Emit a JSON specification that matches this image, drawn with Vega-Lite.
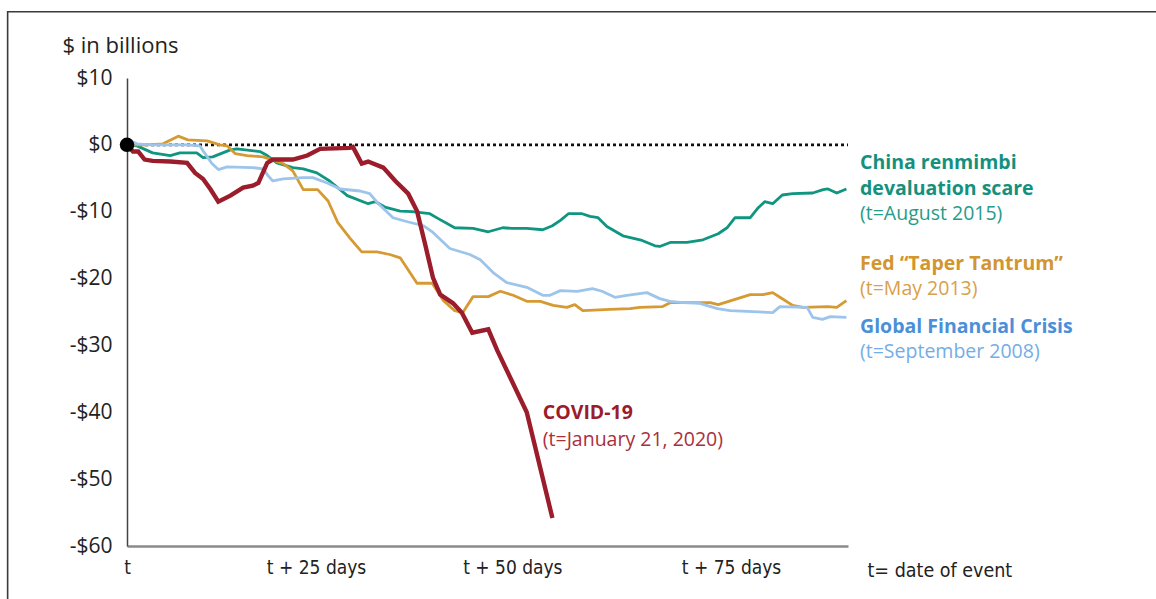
{
  "$schema": "https://vega.github.io/schema/vega-lite/v6.json",
  "width": 721,
  "height": 468,
  "autosize": {"type": "none"},
  "padding": {"left": 127, "top": 78, "right": 308, "bottom": 53},
  "background": "white",
  "config": {"view": {"stroke": null}, "font": "Open Sans"},
  "datasets": {
    "series": [
      {"series": "COVID-19", "day": 0, "value": 0},
      {"series": "COVID-19", "day": 0.75, "value": -1.0},
      {"series": "COVID-19", "day": 1.4, "value": -1.0},
      {"series": "COVID-19", "day": 2.2, "value": -2.2},
      {"series": "COVID-19", "day": 3.2, "value": -2.4},
      {"series": "COVID-19", "day": 5.4, "value": -2.5},
      {"series": "COVID-19", "day": 7.5, "value": -2.7},
      {"series": "COVID-19", "day": 8.5, "value": -4.2},
      {"series": "COVID-19", "day": 9.5, "value": -5.1},
      {"series": "COVID-19", "day": 10.4, "value": -6.6},
      {"series": "COVID-19", "day": 11.4, "value": -8.5},
      {"series": "COVID-19", "day": 12.9, "value": -7.6},
      {"series": "COVID-19", "day": 14.5, "value": -6.4},
      {"series": "COVID-19", "day": 15.7, "value": -6.1},
      {"series": "COVID-19", "day": 16.4, "value": -5.7},
      {"series": "COVID-19", "day": 17.5, "value": -2.7},
      {"series": "COVID-19", "day": 18.2, "value": -2.2},
      {"series": "COVID-19", "day": 20.7, "value": -2.2},
      {"series": "COVID-19", "day": 22.5, "value": -1.6},
      {"series": "COVID-19", "day": 24.1, "value": -0.6},
      {"series": "COVID-19", "day": 27.8, "value": -0.45},
      {"series": "COVID-19", "day": 28.2, "value": -0.3},
      {"series": "COVID-19", "day": 29.3, "value": -2.8},
      {"series": "COVID-19", "day": 30.1, "value": -2.5},
      {"series": "COVID-19", "day": 32.0, "value": -3.4},
      {"series": "COVID-19", "day": 33.5, "value": -5.4},
      {"series": "COVID-19", "day": 35.1, "value": -7.3},
      {"series": "COVID-19", "day": 36.2, "value": -9.9},
      {"series": "COVID-19", "day": 37.2, "value": -14.8},
      {"series": "COVID-19", "day": 38.2, "value": -19.9},
      {"series": "COVID-19", "day": 39.1, "value": -22.4},
      {"series": "COVID-19", "day": 40.7, "value": -23.7},
      {"series": "COVID-19", "day": 41.8, "value": -25.1},
      {"series": "COVID-19", "day": 43.1, "value": -28.1},
      {"series": "COVID-19", "day": 45.1, "value": -27.6},
      {"series": "COVID-19", "day": 46.2, "value": -30.7},
      {"series": "COVID-19", "day": 49.9, "value": -40.0},
      {"series": "COVID-19", "day": 53.1, "value": -55.8},

      {"series": "China", "day": 0, "value": 0},
      {"series": "China", "day": 1.25, "value": -0.15},
      {"series": "China", "day": 3.2, "value": -1.2},
      {"series": "China", "day": 5.4, "value": -1.6},
      {"series": "China", "day": 6.6, "value": -1.2},
      {"series": "China", "day": 8.7, "value": -1.2},
      {"series": "China", "day": 9.5, "value": -1.9},
      {"series": "China", "day": 10.7, "value": -1.8},
      {"series": "China", "day": 12.9, "value": -0.75},
      {"series": "China", "day": 13.7, "value": -0.6},
      {"series": "China", "day": 16.6, "value": -1.0},
      {"series": "China", "day": 17.5, "value": -1.6},
      {"series": "China", "day": 18.7, "value": -2.7},
      {"series": "China", "day": 20.7, "value": -3.4},
      {"series": "China", "day": 22.0, "value": -3.6},
      {"series": "China", "day": 23.7, "value": -4.2},
      {"series": "China", "day": 25.3, "value": -5.4},
      {"series": "China", "day": 27.5, "value": -7.6},
      {"series": "China", "day": 30.1, "value": -8.8},
      {"series": "China", "day": 31.0, "value": -8.5},
      {"series": "China", "day": 32.2, "value": -9.3},
      {"series": "China", "day": 34.1, "value": -9.9},
      {"series": "China", "day": 35.6, "value": -10.0},
      {"series": "China", "day": 37.8, "value": -10.3},
      {"series": "China", "day": 38.8, "value": -11.0},
      {"series": "China", "day": 40.9, "value": -12.4},
      {"series": "China", "day": 43.2, "value": -12.5},
      {"series": "China", "day": 45.1, "value": -13.0},
      {"series": "China", "day": 46.9, "value": -12.4},
      {"series": "China", "day": 48.1, "value": -12.5},
      {"series": "China", "day": 49.9, "value": -12.5},
      {"series": "China", "day": 51.9, "value": -12.7},
      {"series": "China", "day": 53.1, "value": -12.1},
      {"series": "China", "day": 54.1, "value": -11.3},
      {"series": "China", "day": 55.1, "value": -10.3},
      {"series": "China", "day": 56.8, "value": -10.3},
      {"series": "China", "day": 57.8, "value": -10.7},
      {"series": "China", "day": 58.8, "value": -10.9},
      {"series": "China", "day": 59.9, "value": -12.2},
      {"series": "China", "day": 61.9, "value": -13.6},
      {"series": "China", "day": 64.3, "value": -14.3},
      {"series": "China", "day": 65.9, "value": -15.1},
      {"series": "China", "day": 66.5, "value": -15.2},
      {"series": "China", "day": 67.8, "value": -14.6},
      {"series": "China", "day": 69.9, "value": -14.6},
      {"series": "China", "day": 71.9, "value": -14.2},
      {"series": "China", "day": 73.8, "value": -13.3},
      {"series": "China", "day": 74.9, "value": -12.4},
      {"series": "China", "day": 75.9, "value": -10.9},
      {"series": "China", "day": 77.8, "value": -10.9},
      {"series": "China", "day": 78.8, "value": -9.4},
      {"series": "China", "day": 79.6, "value": -8.5},
      {"series": "China", "day": 80.6, "value": -8.8},
      {"series": "China", "day": 81.8, "value": -7.5},
      {"series": "China", "day": 83.1, "value": -7.3},
      {"series": "China", "day": 85.6, "value": -7.2},
      {"series": "China", "day": 86.9, "value": -6.7},
      {"series": "China", "day": 87.5, "value": -6.6},
      {"series": "China", "day": 88.6, "value": -7.2},
      {"series": "China", "day": 89.8, "value": -6.6},

      {"series": "Taper", "day": 0, "value": 0},
      {"series": "Taper", "day": 2.5, "value": 0},
      {"series": "Taper", "day": 4.5, "value": 0.15},
      {"series": "Taper", "day": 6.4, "value": 1.3},
      {"series": "Taper", "day": 7.6, "value": 0.75},
      {"series": "Taper", "day": 10.0, "value": 0.6},
      {"series": "Taper", "day": 11.6, "value": 0},
      {"series": "Taper", "day": 12.5, "value": -0.15},
      {"series": "Taper", "day": 13.5, "value": -1.3},
      {"series": "Taper", "day": 15.0, "value": -1.6},
      {"series": "Taper", "day": 17.0, "value": -1.8},
      {"series": "Taper", "day": 19.5, "value": -2.8},
      {"series": "Taper", "day": 20.7, "value": -3.9},
      {"series": "Taper", "day": 22.0, "value": -6.7},
      {"series": "Taper", "day": 23.8, "value": -6.7},
      {"series": "Taper", "day": 25.1, "value": -8.4},
      {"series": "Taper", "day": 26.3, "value": -11.6},
      {"series": "Taper", "day": 27.8, "value": -13.9},
      {"series": "Taper", "day": 29.3, "value": -16.0},
      {"series": "Taper", "day": 31.2, "value": -16.0},
      {"series": "Taper", "day": 32.8, "value": -16.4},
      {"series": "Taper", "day": 34.1, "value": -16.9},
      {"series": "Taper", "day": 36.2, "value": -20.7},
      {"series": "Taper", "day": 38.1, "value": -20.7},
      {"series": "Taper", "day": 39.5, "value": -23.3},
      {"series": "Taper", "day": 40.9, "value": -24.8},
      {"series": "Taper", "day": 41.9, "value": -25.1},
      {"series": "Taper", "day": 43.2, "value": -22.7},
      {"series": "Taper", "day": 45.1, "value": -22.7},
      {"series": "Taper", "day": 46.6, "value": -21.9},
      {"series": "Taper", "day": 48.2, "value": -22.5},
      {"series": "Taper", "day": 49.9, "value": -23.4},
      {"series": "Taper", "day": 51.6, "value": -23.4},
      {"series": "Taper", "day": 53.2, "value": -24.0},
      {"series": "Taper", "day": 54.9, "value": -24.3},
      {"series": "Taper", "day": 55.9, "value": -23.9},
      {"series": "Taper", "day": 56.9, "value": -24.8},
      {"series": "Taper", "day": 60.3, "value": -24.6},
      {"series": "Taper", "day": 62.8, "value": -24.5},
      {"series": "Taper", "day": 64.0, "value": -24.3},
      {"series": "Taper", "day": 66.8, "value": -24.2},
      {"series": "Taper", "day": 67.8, "value": -23.6},
      {"series": "Taper", "day": 70.7, "value": -23.6},
      {"series": "Taper", "day": 72.8, "value": -23.6},
      {"series": "Taper", "day": 73.8, "value": -23.9},
      {"series": "Taper", "day": 76.2, "value": -23.0},
      {"series": "Taper", "day": 77.8, "value": -22.4},
      {"series": "Taper", "day": 79.4, "value": -22.4},
      {"series": "Taper", "day": 80.6, "value": -22.1},
      {"series": "Taper", "day": 81.5, "value": -22.8},
      {"series": "Taper", "day": 83.1, "value": -24.0},
      {"series": "Taper", "day": 84.4, "value": -24.3},
      {"series": "Taper", "day": 87.5, "value": -24.2},
      {"series": "Taper", "day": 88.6, "value": -24.3},
      {"series": "Taper", "day": 89.8, "value": -23.3},

      {"series": "GFC", "day": 0, "value": 0},
      {"series": "GFC", "day": 0.4, "value": 0.6},
      {"series": "GFC", "day": 1.25, "value": 0.15},
      {"series": "GFC", "day": 3.2, "value": 0},
      {"series": "GFC", "day": 7.5, "value": 0},
      {"series": "GFC", "day": 9.1, "value": -0.15},
      {"series": "GFC", "day": 9.5, "value": -0.9},
      {"series": "GFC", "day": 10.6, "value": -2.8},
      {"series": "GFC", "day": 11.4, "value": -3.7},
      {"series": "GFC", "day": 12.5, "value": -3.3},
      {"series": "GFC", "day": 15.7, "value": -3.4},
      {"series": "GFC", "day": 17.0, "value": -3.6},
      {"series": "GFC", "day": 17.6, "value": -4.6},
      {"series": "GFC", "day": 18.2, "value": -5.4},
      {"series": "GFC", "day": 19.5, "value": -5.1},
      {"series": "GFC", "day": 22.0, "value": -4.9},
      {"series": "GFC", "day": 23.2, "value": -4.9},
      {"series": "GFC", "day": 25.0, "value": -5.7},
      {"series": "GFC", "day": 26.6, "value": -6.6},
      {"series": "GFC", "day": 29.1, "value": -6.9},
      {"series": "GFC", "day": 30.3, "value": -7.3},
      {"series": "GFC", "day": 31.3, "value": -8.7},
      {"series": "GFC", "day": 33.2, "value": -10.9},
      {"series": "GFC", "day": 35.0, "value": -11.5},
      {"series": "GFC", "day": 37.0, "value": -12.1},
      {"series": "GFC", "day": 38.2, "value": -13.1},
      {"series": "GFC", "day": 40.3, "value": -15.5},
      {"series": "GFC", "day": 42.8, "value": -16.4},
      {"series": "GFC", "day": 44.1, "value": -17.2},
      {"series": "GFC", "day": 45.7, "value": -19.1},
      {"series": "GFC", "day": 47.4, "value": -20.6},
      {"series": "GFC", "day": 49.9, "value": -21.3},
      {"series": "GFC", "day": 51.9, "value": -22.5},
      {"series": "GFC", "day": 52.8, "value": -22.5},
      {"series": "GFC", "day": 54.1, "value": -21.8},
      {"series": "GFC", "day": 56.2, "value": -21.9},
      {"series": "GFC", "day": 58.1, "value": -21.5},
      {"series": "GFC", "day": 59.3, "value": -21.9},
      {"series": "GFC", "day": 60.9, "value": -22.8},
      {"series": "GFC", "day": 62.4, "value": -22.5},
      {"series": "GFC", "day": 64.9, "value": -22.1},
      {"series": "GFC", "day": 66.5, "value": -23.0},
      {"series": "GFC", "day": 67.8, "value": -23.4},
      {"series": "GFC", "day": 69.4, "value": -23.6},
      {"series": "GFC", "day": 71.5, "value": -23.7},
      {"series": "GFC", "day": 73.7, "value": -24.5},
      {"series": "GFC", "day": 75.3, "value": -24.8},
      {"series": "GFC", "day": 77.4, "value": -24.9},
      {"series": "GFC", "day": 80.6, "value": -25.1},
      {"series": "GFC", "day": 81.5, "value": -24.2},
      {"series": "GFC", "day": 84.9, "value": -24.3},
      {"series": "GFC", "day": 85.6, "value": -25.8},
      {"series": "GFC", "day": 86.8, "value": -26.1},
      {"series": "GFC", "day": 87.8, "value": -25.7},
      {"series": "GFC", "day": 89.8, "value": -25.8}
    ],
    "boldLabels": [
      {"series": "China", "day": 91.5, "value": -2.7, "text": "China renmimbi"},
      {"series": "China", "day": 91.5, "value": -6.6, "text": "devaluation scare"},
      {"series": "Taper", "day": 91.5, "value": -17.8, "text": "Fed “Taper Tantrum”"},
      {"series": "GFC", "day": 91.5, "value": -27.3, "text": "Global Financial Crisis"},
      {"series": "COVID-19", "day": 51.9, "value": -40.1, "text": "COVID-19"}
    ],
    "plainLabels": [
      {"series": "China", "day": 91.5, "value": -10.3, "text": "(t=August 2015)"},
      {"series": "Taper", "day": 91.5, "value": -21.5, "text": "(t=May 2013)"},
      {"series": "GFC", "day": 91.5, "value": -31.0, "text": "(t=September 2008)"},
      {"series": "COVID-19", "day": 51.9, "value": -44.2, "text": "(t=January 21, 2020)"}
    ]
  },
  "layer": [
    {
      "data": {"values": [{"x0": -14.9, "x1": 150, "y0": 19.9, "y1": -80}]},
      "mark": {"type": "rect", "fill": null, "stroke": "#3a3a3a", "strokeWidth": 1.6, "clip": false},
      "encoding": {
        "x": {"field": "x0", "type": "quantitative", "scale": {"domain": [0, 90]}},
        "x2": {"field": "x1"},
        "y": {"field": "y0", "type": "quantitative", "scale": {"domain": [-60, 10]}},
        "y2": {"field": "y1"}
      }
    },
    {
      "data": {"values": [{"a": 0, "b": 90, "v": 0}]},
      "mark": {"type": "rule", "color": "#111111", "strokeWidth": 2.6, "strokeDash": [3, 3]},
      "encoding": {
        "x": {"field": "a", "type": "quantitative"},
        "x2": {"field": "b"},
        "y": {"field": "v", "type": "quantitative"}
      }
    },
    {
      "data": {"name": "series"},
      "transform": [{"filter": "datum.series !== 'COVID-19'"}],
      "mark": {"type": "line", "strokeWidth": 2.8, "strokeJoin": "round"},
      "encoding": {
        "x": {
          "field": "day", "type": "quantitative",
          "scale": {"domain": [0, 90], "nice": false, "zero": false},
          "axis": {
            "values": [0, 23.6, 48.1, 75.4],
            "labelExpr": "datum.value == 0 ? 't' : datum.value < 30 ? 't + 25 days' : datum.value < 60 ? 't + 50 days' : 't + 75 days'",
            "ticks": false,
            "grid": false,
            "domainColor": "#8a8a8a",
            "domainWidth": 2.4,
            "labelFont": "DejaVu Sans Condensed",
            "labelFontSize": 19,
            "labelColor": "#222222",
            "labelPadding": 12,
            "labelFlush": false,
            "title": "t= date of event",
            "titleFont": "DejaVu Sans Condensed",
            "titleFontSize": 19.5,
            "titleFontWeight": "normal",
            "titleColor": "#222222",
            "titleAnchor": "start",
            "titleAlign": "left",
            "titleBaseline": "middle",
            "titleX": 740,
            "titleY": 24
          }
        },
        "y": {
          "field": "value", "type": "quantitative",
          "scale": {"domain": [-60, 10], "nice": false},
          "axis": {
            "values": [-60, -50, -40, -30, -20, -10, 0, 10],
            "labelExpr": "datum.value < 0 ? '-$' + abs(datum.value) : '$' + datum.value",
            "ticks": false,
            "grid": false,
            "domainColor": "#444444",
            "domainWidth": 1.5,
            "labelFont": "Open Sans",
            "labelFontSize": 21,
            "labelColor": "#222222",
            "labelPadding": 15,
            "title": "$ in billions",
            "titleFont": "Open Sans",
            "titleFontSize": 22,
            "titleFontWeight": "normal",
            "titleColor": "#222222",
            "titleAngle": 0,
            "titleAlign": "left",
            "titleBaseline": "middle",
            "titleX": -65,
            "titleY": -33
          }
        },
        "stroke": {
          "field": "series", "type": "nominal",
          "scale": {"domain": ["GFC", "Taper", "China"], "range": ["#9dc4ea", "#d69a33", "#109581"]},
          "legend": null
        }
      }
    },
    {
      "data": {"name": "series"},
      "transform": [{"filter": "datum.series === 'COVID-19'"}],
      "mark": {"type": "line", "strokeWidth": 4.4, "color": "#9b1c2b", "strokeJoin": "miter"},
      "encoding": {
        "x": {"field": "day", "type": "quantitative"},
        "y": {"field": "value", "type": "quantitative"}
      }
    },
    {
      "data": {"values": [{"day": 0, "value": 0}]},
      "mark": {"type": "point", "filled": true, "color": "#000000", "size": 210, "opacity": 1},
      "encoding": {
        "x": {"field": "day", "type": "quantitative"},
        "y": {"field": "value", "type": "quantitative"}
      }
    },
    {
      "data": {"name": "boldLabels"},
      "mark": {"type": "text", "align": "left", "baseline": "middle", "font": "Open Sans", "fontSize": 19.5, "fontWeight": "bold", "clip": false},
      "encoding": {
        "x": {"field": "day", "type": "quantitative"},
        "y": {"field": "value", "type": "quantitative"},
        "text": {"field": "text"},
        "fill": {
          "field": "series", "type": "nominal",
          "scale": {"domain": ["China", "Taper", "GFC", "COVID-19"], "range": ["#14917e", "#d2952f", "#4b8fd8", "#9b1c2b"]},
          "legend": null
        }
      }
    },
    {
      "data": {"name": "plainLabels"},
      "mark": {"type": "text", "align": "left", "baseline": "middle", "font": "Open Sans", "fontSize": 19.5, "fontWeight": "normal", "clip": false},
      "encoding": {
        "x": {"field": "day", "type": "quantitative"},
        "y": {"field": "value", "type": "quantitative"},
        "text": {"field": "text"},
        "color": {
          "field": "series", "type": "nominal",
          "scale": {"domain": ["China", "Taper", "GFC", "COVID-19"], "range": ["#279b88", "#d9a04a", "#74ade6", "#a83040"]},
          "legend": null
        }
      }
    }
  ]
}
